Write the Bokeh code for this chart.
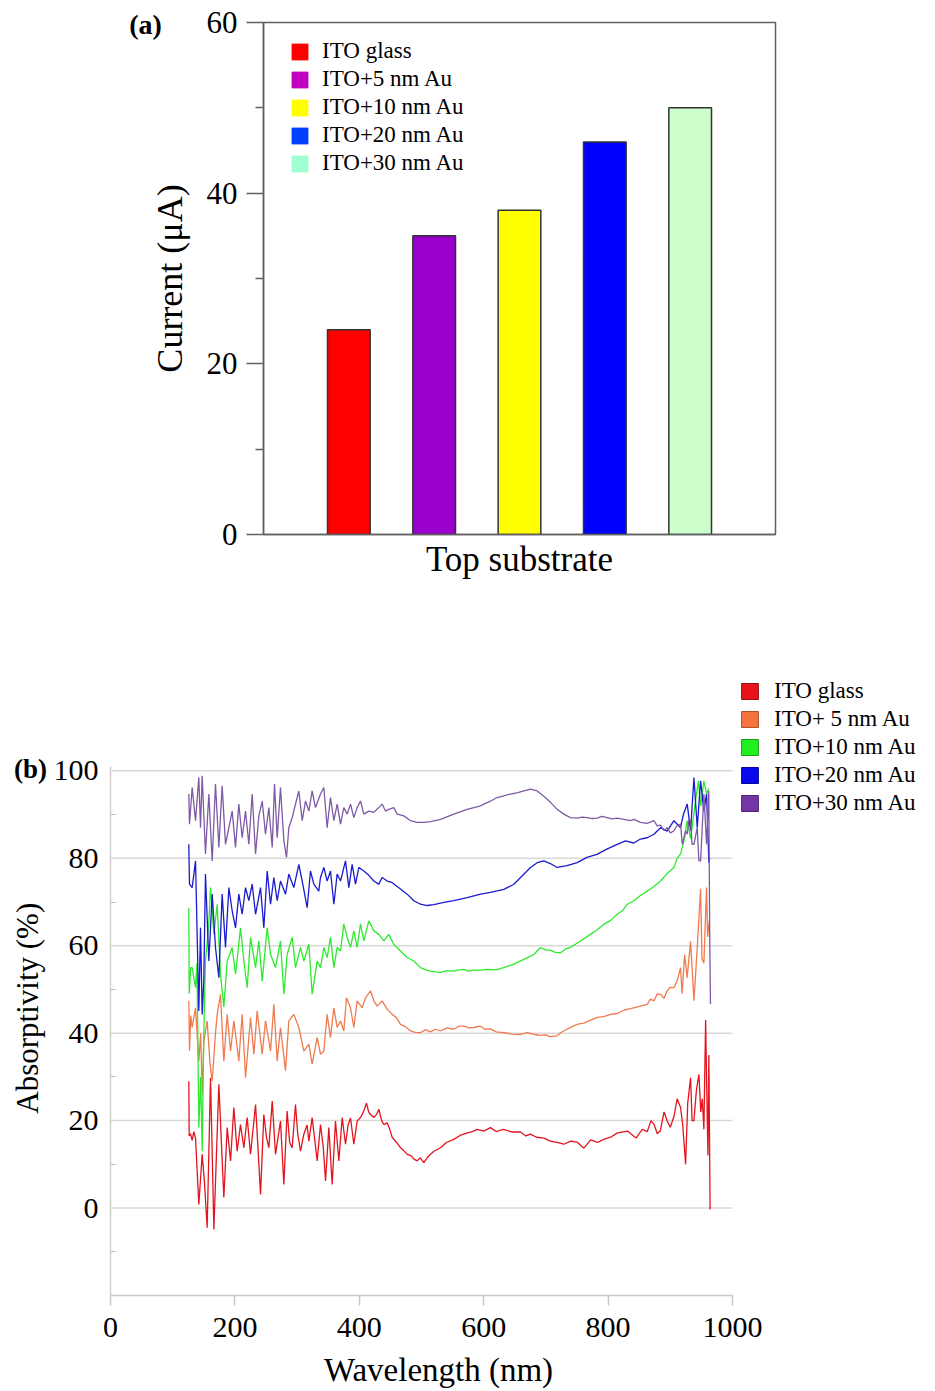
from bokeh.plotting import figure
from bokeh.models import (FixedTicker, Legend, LegendItem, Label, ColumnDataSource, Range1d)
from bokeh.embed import file_html
from bokeh.resources import INLINE

FONT = "Liberation Serif"

# ---------------- (a) data ----------------
substrates = ["ITO glass", "ITO+5 nm Au", "ITO+10 nm Au", "ITO+20 nm Au", "ITO+30 nm Au"]
bar_pos = [1, 2, 3, 4, 5]
current_uA = [24, 35, 38, 46, 50]
bar_colors = ["#FF0000", "#9900CC", "#FFFF00", "#0000FF", "#CCFFCC"]
legend_a_colors = ["#FF0000", "#C000C0", "#FFFF00", "#0040FF", "#A0FFD0"]
a_yticks = [0, 20, 40, 60]
a_yminor = [10, 30, 50]

# ---------------- (b) data ----------------
series_names = ["ITO glass", "ITO+ 5 nm Au", "ITO+10 nm Au", "ITO+20 nm Au", "ITO+30 nm Au"]
line_colors = ["#E3141E", "#EF7B4F", "#2EEA2E", "#1A1ACF", "#7E5AA6"]
legend_b_colors = ["#E8141C", "#F4733F", "#22EE22", "#0808EE", "#7436A6"]
legend_b_edges = ["#9A0E12", "#B0502A", "#18A018", "#05059A", "#4E2470"]

ito_wl = [125.9, 126.5, 128.6, 131.3, 134, 136.7, 142.0, 147.4, 151, 155.4, 160.8, 166.2, 174.2, 182.2, 187.6,
          193.0, 198.3, 203.6, 209.0, 214.4, 219.7, 225.1, 233.2, 237, 241.2, 246.5, 251, 254.6, 260.0, 265.3,
          273.3, 278.7, 284.0, 288, 292.1, 297.4, 301, 305.5, 310.8, 316, 318.9, 324.2, 332.3, 337.6, 342,
          345.7, 351.0, 356.4, 361.7, 367.1, 372.5, 377.8, 382, 385.9, 391.2, 396.6, 401.9, 405, 408, 411.6,
          415, 418.0, 423.4, 428, 431.4, 436, 439.4, 444.8, 449, 452.8, 460, 466.2, 471, 476.9, 483, 488,
          493.0, 498, 503.8, 509, 514.5, 520, 530.6, 540, 552.0, 562, 573.5, 582, 589.5, 600, 611, 620,
          632, 645, 659, 668, 675, 685, 697, 707, 718, 729, 740, 750, 761, 772, 783, 793, 804, 815, 831,
          845, 855, 863, 869, 874, 879, 884, 890, 895, 900, 906, 911, 916.5, 920, 924.6, 928, 932.6, 935,
          938, 942, 946, 949, 951.4, 954, 956.8, 958.5, 960.5, 962, 964]
ito_abs = [29, 16.5, 17, 15.5, 17.5, 16, 0.8, 12.3, 6, -4.5, 29.8, -4.9, 28.3, 2.4, 18.4,
           10.8, 23.0, 13.0, 19.1, 13.8, 20.7, 12.3, 23.7, 14, 3.1, 21.4, 16, 13.8, 24.5, 12.3,
           19.9, 5.4, 22.2, 15, 13.8, 23.7, 17, 13.0, 16.9, 19, 15.3, 20.7, 10.8, 19.1, 14,
           6.2, 18.4, 5.4, 19.9, 10.8, 20.7, 14.6, 19, 20.6, 14.6, 19.9, 20.7, 21.5, 22.5, 24.0,
           22, 21.4, 20.7, 21.5, 22.6, 20, 19.1, 19.5, 18, 16.2, 15, 13.8, 13.2, 12.3, 12, 11.2,
           10.8, 11.5, 10.4, 11.5, 12.3, 13, 13.8, 15, 15.7, 16.6, 17.2, 17.5, 18.0, 17.6, 18.4, 17.5,
           18.0, 17.4, 17.4, 16.5, 16.9, 16.2, 16.0, 15.3, 15.0, 14.6, 15.3, 15.1, 13.7, 15.6, 15.0, 15.7, 16.2, 17.2, 17.6,
           16, 18, 17.5, 20, 19.1, 17, 17.7, 22, 19.9, 18.5, 21, 25, 23.0, 19, 10, 24, 29.8, 20,
           20, 27, 30.6, 22, 25, 18, 43, 28, 12, 35, -0.3]

au5_wl = [125.9, 127, 129, 131.3, 136.7, 142.0, 145, 147.4, 150, 155.4, 160, 163.5, 168.8, 171.5, 176.8,
          182.2, 187.6, 193.0, 198.3, 206.3, 211.7, 217.1, 225.1, 230.5, 235.8, 243.9, 249.2, 257.3, 262.6,
          268.0, 273.3, 281.4, 286.7, 294.7, 302.8, 310.8, 318.9, 324.2, 332.3, 337.6, 343.0, 348.3, 353.7,
          359.1, 364.4, 369.8, 375.1, 379.4, 385.9, 391.2, 396.6, 404.6, 410.0, 418.0, 423.4, 428.7, 436.7,
          444.8, 452.8, 460, 466.2, 474, 482.3, 490, 498.4, 506, 514.5, 522, 530.6, 541, 552.0, 560, 568.1,
          576, 584.1, 594.9, 602, 611, 620, 632.4, 645, 659.2, 670, 682, 690, 700, 707, 718, 725, 735, 750,
          761, 772, 783, 793, 804, 815, 826, 836, 841, 852, 863, 868, 874, 879, 884, 890, 895, 900, 906,
          911, 916.5, 919, 923, 927, 932.6, 938, 943, 948.7, 951, 954, 958.3, 960, 963]
au5_abs = [47.4, 36, 44, 41.3, 45.8, 33.6, 40, 26, 38, 42.8, 33, 29.1, 40, 44.3, 48.9,
           33.6, 44.3, 35.9, 42.8, 33.6, 44.3, 29.8, 43.6, 35.2, 45.1, 35.2, 42.8, 35.9, 46.6,
           33.6, 41.3, 31.4, 42.8, 44.3, 41.3, 35.9, 37.5, 32.9, 39.0, 35.2, 35.9, 44.3, 39.0,
           45.8, 41.3, 42.8, 40.5, 48.1, 45.8, 41.3, 47.4, 45.8, 48.1, 49.7, 47.4, 46.2, 47.4,
           45.5, 44.3, 43.5, 42.0, 41.5, 40.5, 40.2, 40.1, 40.8, 40.3, 40.9, 40.5, 41.2, 40.9, 41.6, 41.6,
           41.2, 41.3, 41.6, 40.9, 41.0, 40.3, 40.1, 39.8, 39.7, 40.1, 39.7, 39.5, 39.6, 39.2, 39.4, 40.2, 41.0, 42,
           42.3, 43, 43.6, 43.8, 44.3, 44.5, 45.3, 45.6, 45.8, 46.2, 46.6, 47.8, 47.4, 49, 48.9, 48, 49.7, 50.5, 50.4,
           52, 55, 49, 58, 52.7, 61, 47.4, 58.8, 73, 57, 56, 73.3, 62, 66]

au10_wl = [125.9, 126.5, 129, 131.3, 136.7, 139, 142.0, 145, 147.4, 150, 152.7, 158, 160.8, 166.2, 171.5,
           176.8, 182.2, 187.6, 195.6, 201.0, 209.0, 214.4, 219.7, 225.1, 233.2, 238.5, 243.9, 251.9, 257.3,
           265.3, 273.3, 278.7, 284.0, 292.1, 297.4, 305.5, 310.8, 318.9, 324.2, 332.3, 337.6, 343.0, 348.3,
           353.7, 359.1, 364.4, 369.8, 375.1, 380.5, 385.9, 391.2, 396.6, 401.9, 407.3, 415.3, 423.4, 431.4,
           439.4, 447.5, 455.5, 466.2, 476.9, 487.7, 498.4, 507, 514.5, 522, 530.6, 541, 552.0, 560, 568.1,
           576, 584.1, 594.9, 605, 620, 632, 648.5, 664.6, 680.6, 691.3, 700, 707.4, 715, 723.5, 731, 739.5,
           755.6, 771.7, 782, 793.1, 804, 814.6, 823, 830.7, 841.4, 852, 862.8, 873, 884.3, 895, 905.8, 911,
           916.5, 922, 927.2, 932.6, 940, 945, 949, 954, 958.3, 962]
au10_abs = [68.7, 49, 55, 55.0, 50.4, 56, 18.4, 30, 13.0, 40, 56.5, 65, 73.3, 62.6, 69.5,
            53.5, 46.0, 56.5, 59.6, 53.5, 64.1, 56.5, 50.4, 61.9, 55.0, 61.1, 51.9, 64.1, 58.0,
            55.0, 61.1, 48.9, 58.0, 61.9, 55.0, 59.6, 56.5, 60.4, 48.9, 56.5, 55.0, 59.6, 57.3,
            61.9, 55.0, 59.6, 58.8, 65.0, 61.9, 59.6, 63.4, 59.6, 65.0, 61.1, 65.7, 63.4, 62.6,
            61.1, 62.6, 60.3, 58.8, 57.3, 56.5, 55.0, 54.5, 54.2, 54.0, 53.9, 54.3, 54.2, 54.5, 54.6,
            54.2, 54.4, 54.4, 54.6, 54.5, 55.0, 55.8, 56.9, 58.0, 59.6, 59.0, 59.0, 58.5, 58.4, 59.2, 59.6,
            61.1, 62.6, 63.6, 64.9, 65.8, 67.2, 68, 69.5, 70.3, 71.5, 72.5, 73.5, 74.8, 76.5, 77.9, 80,
            81.0, 84.0, 88.6, 84.5, 92.5, 97.7, 92, 97.7, 94.7, 96]

au20_wl = [125.9, 127, 131.3, 136.7, 142.0, 144.7, 147.4, 150, 152.7, 158.1, 163.5, 168.8, 174.2, 179.5,
           184.9, 190.3, 195.6, 201.0, 206.3, 211.7, 217.1, 222.4, 227.8, 233.2, 241.2, 246.5, 251.9, 257.3,
           262.6, 268.0, 273.3, 281.4, 286.7, 294.7, 302.8, 308.2, 316.2, 321.5, 326.9, 334.9, 337.6, 343.0,
           348.3, 353.7, 359.1, 364.4, 369.8, 377.8, 383.2, 388.5, 393.9, 399.3, 407.3, 415.3, 423.4, 431.4,
           436.7, 444.8, 452, 455.5, 466.2, 476.9, 487.7, 498.4, 509.1, 519.8, 535.9, 552.0, 573.5, 594.9,
           611, 632.4, 648, 659.2, 675.2, 686, 696.7, 707, 718.1, 734, 750.3, 766, 782, 798, 814.6, 828,
           841.4, 852, 862.8, 873.6, 884.3, 895, 905.8, 916.5, 921, 927.2, 932.6, 938, 943.3, 948.7, 954,
           958.3, 962, 963.5]
au20_abs = [83.2, 74.1, 73.3, 79.4, 45.1, 64.1, 44.3, 52, 76.4, 56.5, 71.8, 59.6, 52.7, 71.8,
            59.6, 73.3, 68.0, 64.1, 71.8, 67.2, 73.3, 70.3, 74.1, 67.2, 73.3, 64.1, 77.1, 69.5,
            75.6, 70.3, 74.8, 71.8, 76.4, 73.3, 78.6, 74.8, 68.7, 77.1, 74.1, 72.5, 75.6, 77.9,
            74.8, 77.1, 69.5, 76.4, 74.8, 79.4, 73.3, 78.6, 74.1, 77.9, 77.1, 76.1, 74.8, 74.1,
            75.6, 74.8, 74.5, 74.1, 73.0, 71.8, 70.3, 69.5, 69.2, 69.4, 69.9, 70.3, 71.0, 71.8,
            72.2, 72.9, 74, 75.6, 77.9, 79.0, 79.4, 78.8, 77.9, 78.3, 79.0, 80.2, 80.9, 82.1, 83.2, 84.0,
            83.5, 84.4, 84.7, 85.5, 87.0, 86.2, 88.6, 87.0, 90, 92.4, 86.3, 98.5, 87.0, 97.7, 90.8,
            94.7, 79, 80]

au30_wl = [125.9, 127, 131.3, 136.7, 142.0, 144.7, 147.4, 152.7, 158.1, 163.5, 168.8, 174.2, 179.5, 184.9,
           190.3, 195.6, 201.0, 206.3, 211.7, 217.1, 222.4, 227.8, 233.2, 238.5, 243.9, 249.2, 254.6, 260.0,
           263.7, 268.0, 273.3, 278.7, 283.0, 286.7, 292.1, 297.4, 302.8, 308.2, 313.5, 318.9, 324.2, 329.6,
           337.6, 343.0, 348.3, 353.7, 359.1, 364.4, 369.8, 375.1, 380.5, 385.9, 391.2, 396.6, 401.9, 407.3,
           415.3, 423.4, 431.4, 436.7, 442.1, 447.5, 455.5, 460.9, 471.6, 482.3, 493.0, 503.8, 514.5, 530.6,
           552.0, 573.5, 594.9, 600.2, 610, 621.7, 632, 643.1, 655, 664.6, 675.2, 686.0, 696.7, 707.4, 718.1,
           728.8, 739.5, 750.3, 758, 766.3, 774, 782.4, 790, 798.5, 806, 814.6, 825.3, 836, 841.4, 852, 862.8,
           873.6, 879, 884.3, 890, 895, 900, 905.8, 911, 916.5, 919.2, 924.6, 927.2, 930, 932.6, 935, 938,
           943.3, 946, 948.7, 954, 958.3, 961.9, 963.5, 964.6]
au30_abs = [94.7, 87.8, 96.2, 88.6, 98.5, 87.0, 98.9, 81.0, 94.7, 79.4, 97.0, 82.5, 96.6, 83.2,
            87.0, 90.8, 82.5, 92.4, 84.7, 90.8, 83.2, 94.7, 81.0, 89.7, 93.1, 85.5, 91.6, 82.5,
            97.0, 84.7, 96.2, 84.0, 80.2, 87.0, 89.3, 92.4, 95.4, 88.6, 93.1, 90.8, 95.4, 91.6,
            94.7, 96.2, 87.0, 93.9, 88.6, 92.4, 87.8, 91.6, 90.1, 92.4, 89.3, 91.6, 93.1, 90.1,
            90.8, 90.5, 91.6, 92.4, 90.8, 91.2, 91.6, 90.1, 89.7, 88.6, 88.2, 88.2, 88.4, 88.9,
            90.1, 91.2, 92.0, 92.4, 93.0, 93.9, 94.3, 94.7, 95.0, 95.4, 95.8, 95.4, 94.2, 92.8, 91.2,
            90.1, 89.3, 89.2, 89.4, 89.3, 89.1, 89.2, 89.6, 89.3, 89.0, 89.2, 88.9, 88.6, 88.9, 88.2, 88.0,
            88.6, 87.4, 87.6, 86.3, 87.0, 85.8, 86.3, 87.5, 87.8, 83.2, 86.3, 85.5, 89, 88.6, 83.2, 83.2,
            87.0, 79.4, 79.4, 94.7, 83.2, 95.4, 60, 46.6]

spectra_wl = [ito_wl, au5_wl, au10_wl, au20_wl, au30_wl]
spectra_abs = [ito_abs, au5_abs, au10_abs, au20_abs, au30_abs]
b_xticks = [0, 200, 400, 600, 800, 1000]
b_yticks = [0, 20, 40, 60, 80, 100]
b_yminor = [-10, 10, 30, 50, 70, 90]
b_xlim = (0, 1000)
b_ylim = (-20, 101)


def style_text_axis(ax, tick_size, label_size, standoff, label_standoff):
    ax.major_label_text_font = FONT
    ax.major_label_text_font_size = tick_size
    ax.major_label_text_color = "black"
    ax.major_label_standoff = standoff
    ax.axis_label_text_font = FONT
    ax.axis_label_text_font_size = label_size
    ax.axis_label_text_font_style = "normal"
    ax.axis_label_text_color = "black"
    ax.axis_label_standoff = label_standoff


# ================= figure (a) =================
pa = figure(width=935, height=640, x_range=Range1d(0, 6), y_range=Range1d(0, 60),
            output_backend="svg", toolbar_location=None,
            min_border_left=263, min_border_right=160, min_border_top=22, min_border_bottom=106)
pa.grid.visible = False
pa.outline_line_color = "#606060"
pa.outline_line_width = 1.5

src_a = ColumnDataSource(dict(x=bar_pos, top=current_uA, color=bar_colors, name=substrates))
pa.vbar(x="x", top="top", bottom=0, width=0.5, fill_color="color", line_color="#333333",
        line_width=1.5, source=src_a)

ya = pa.yaxis[0]
ya.ticker = FixedTicker(ticks=a_yticks, minor_ticks=a_yminor)
ya.major_tick_out = 17
ya.major_tick_in = 0
ya.minor_tick_out = 8
ya.minor_tick_in = 0
for attr in ("axis_line", "major_tick_line", "minor_tick_line"):
    setattr(ya, attr + "_color", "#606060")
    setattr(ya, attr + "_width", 1.5)
ya.axis_label = "Current (μA)"
style_text_axis(ya, "31px", "36px", 9, 14)

xa = pa.xaxis[0]
xa.ticker = FixedTicker(ticks=[])
xa.major_tick_out = 0
xa.major_tick_in = 0
xa.minor_tick_out = 0
xa.minor_tick_in = 0
xa.axis_line_color = "#606060"
xa.axis_line_width = 1.5
xa.axis_label = "Top substrate"
style_text_axis(xa, "10px", "35px", 0, 5)

items_a = []
for i, (name, col) in enumerate(zip(substrates, legend_a_colors)):
    # zero-height bar at the category position: invisible, only used as legend swatch
    r = pa.vbar(x=[bar_pos[i]], top=[0], bottom=[0], width=0, fill_color=col, line_color=None)
    items_a.append(LegendItem(label=name, renderers=[r]))
leg_a = Legend(items=items_a, location=(26, 358), glyph_width=21, glyph_height=21,
               label_height=21, spacing=2, padding=0, margin=0, border_line_color=None,
               background_fill_alpha=0, label_text_font=FONT, label_text_font_size="23px",
               label_text_color="black", label_standoff=12)
pa.add_layout(leg_a, "center")

pa.add_layout(Label(x=145, y=24, x_units="canvas", y_units="canvas", text="(a)", text_font=FONT,
                    text_font_style="bold", text_font_size="28px", text_color="black",
                    text_align="center", text_baseline="middle"), "left")

# ================= figure (b) =================
# The frame is widened to the right edge (and raised) so the legend can sit in it;
# axes and grid lines are bounded to the data limits.
PX_PER_NM = 0.622
PX_PER_PCT = 4.372
B_TOP, B_BOTTOM, B_LEFT = 34, 96, 110
frame_w = 935 - B_LEFT
frame_h = 751 - B_TOP - B_BOTTOM
pb = figure(width=935, height=751,
            x_range=Range1d(b_xlim[0], b_xlim[0] + frame_w / PX_PER_NM),
            y_range=Range1d(b_ylim[0], b_ylim[0] + frame_h / PX_PER_PCT),
            output_backend="svg", toolbar_location=None,
            min_border_left=B_LEFT, min_border_right=0, min_border_top=B_TOP,
            min_border_bottom=B_BOTTOM)
pb.outline_line_color = None
pb.grid.visible = False

pb.segment(x0=[b_xlim[0]] * len(b_yticks), x1=[b_xlim[1]] * len(b_yticks), y0=b_yticks, y1=b_yticks,
           line_color="#D9D9D9", line_width=1.5)

for wl, ab, col in zip(spectra_wl, spectra_abs, line_colors):
    pb.line(x=wl, y=ab, line_color=col, line_width=1.3)

yb = pb.yaxis[0]
yb.bounds = b_ylim
yb.ticker = FixedTicker(ticks=b_yticks, minor_ticks=b_yminor)
yb.major_tick_out = 0
yb.major_tick_in = 0
yb.minor_tick_out = 0
yb.minor_tick_in = 5
yb.minor_tick_line_color = "#BBBBBB"
yb.axis_line_color = "#D0D0D0"
yb.axis_line_width = 1.5
# trailing no-break spaces shift the centred label down toward the middle of the data area
yb.axis_label = "Absorptivity (%)" + "\u00a0" * 6
style_text_axis(yb, "30px", "31px", 12, 6)

xb = pb.xaxis[0]
xb.bounds = b_xlim
xb.ticker = FixedTicker(ticks=b_xticks)
xb.major_tick_out = 10
xb.major_tick_in = 0
xb.minor_tick_out = 0
xb.minor_tick_in = 0
xb.major_tick_line_color = "#C8C8C8"
xb.major_tick_line_width = 1.5
xb.axis_line_color = "#C8C8C8"
xb.axis_line_width = 1.5
style_text_axis(xb, "30px", "34px", 12, 0)

pb.add_layout(Label(x=438, y=729, x_units="canvas", y_units="canvas", text="Wavelength (nm)",
                    text_font=FONT, text_font_size="33px", text_color="black",
                    text_align="center", text_baseline="middle"), "below")

items_b = []
for name, col, edge, wl, ab in zip(series_names, legend_b_colors, legend_b_edges, spectra_wl, spectra_abs):
    # zero-size bar at the series' first point: invisible, only used as legend swatch
    r = pb.vbar(x=[wl[0]], top=[ab[0]], bottom=[ab[0]], width=0, fill_color=col,
                line_color=edge, line_width=1, line_alpha=1)
    items_b.append(LegendItem(label=name, renderers=[r]))
leg_b = Legend(items=items_b, location=(629, 479), glyph_width=21, glyph_height=20,
               label_height=20, spacing=2, padding=0, margin=0, border_line_color=None,
               background_fill_alpha=0, label_text_font=FONT, label_text_font_size="23px",
               label_text_color="black", label_standoff=14)
pb.add_layout(leg_b, "center")

pb.add_layout(Label(x=30, y=128, x_units="canvas", y_units="canvas", text="(b)", text_font=FONT,
                    text_font_style="bold", text_font_size="27px", text_color="black",
                    text_align="center", text_baseline="middle"), "above")

open("out.html", "w").write(file_html([pa, pb], INLINE))
